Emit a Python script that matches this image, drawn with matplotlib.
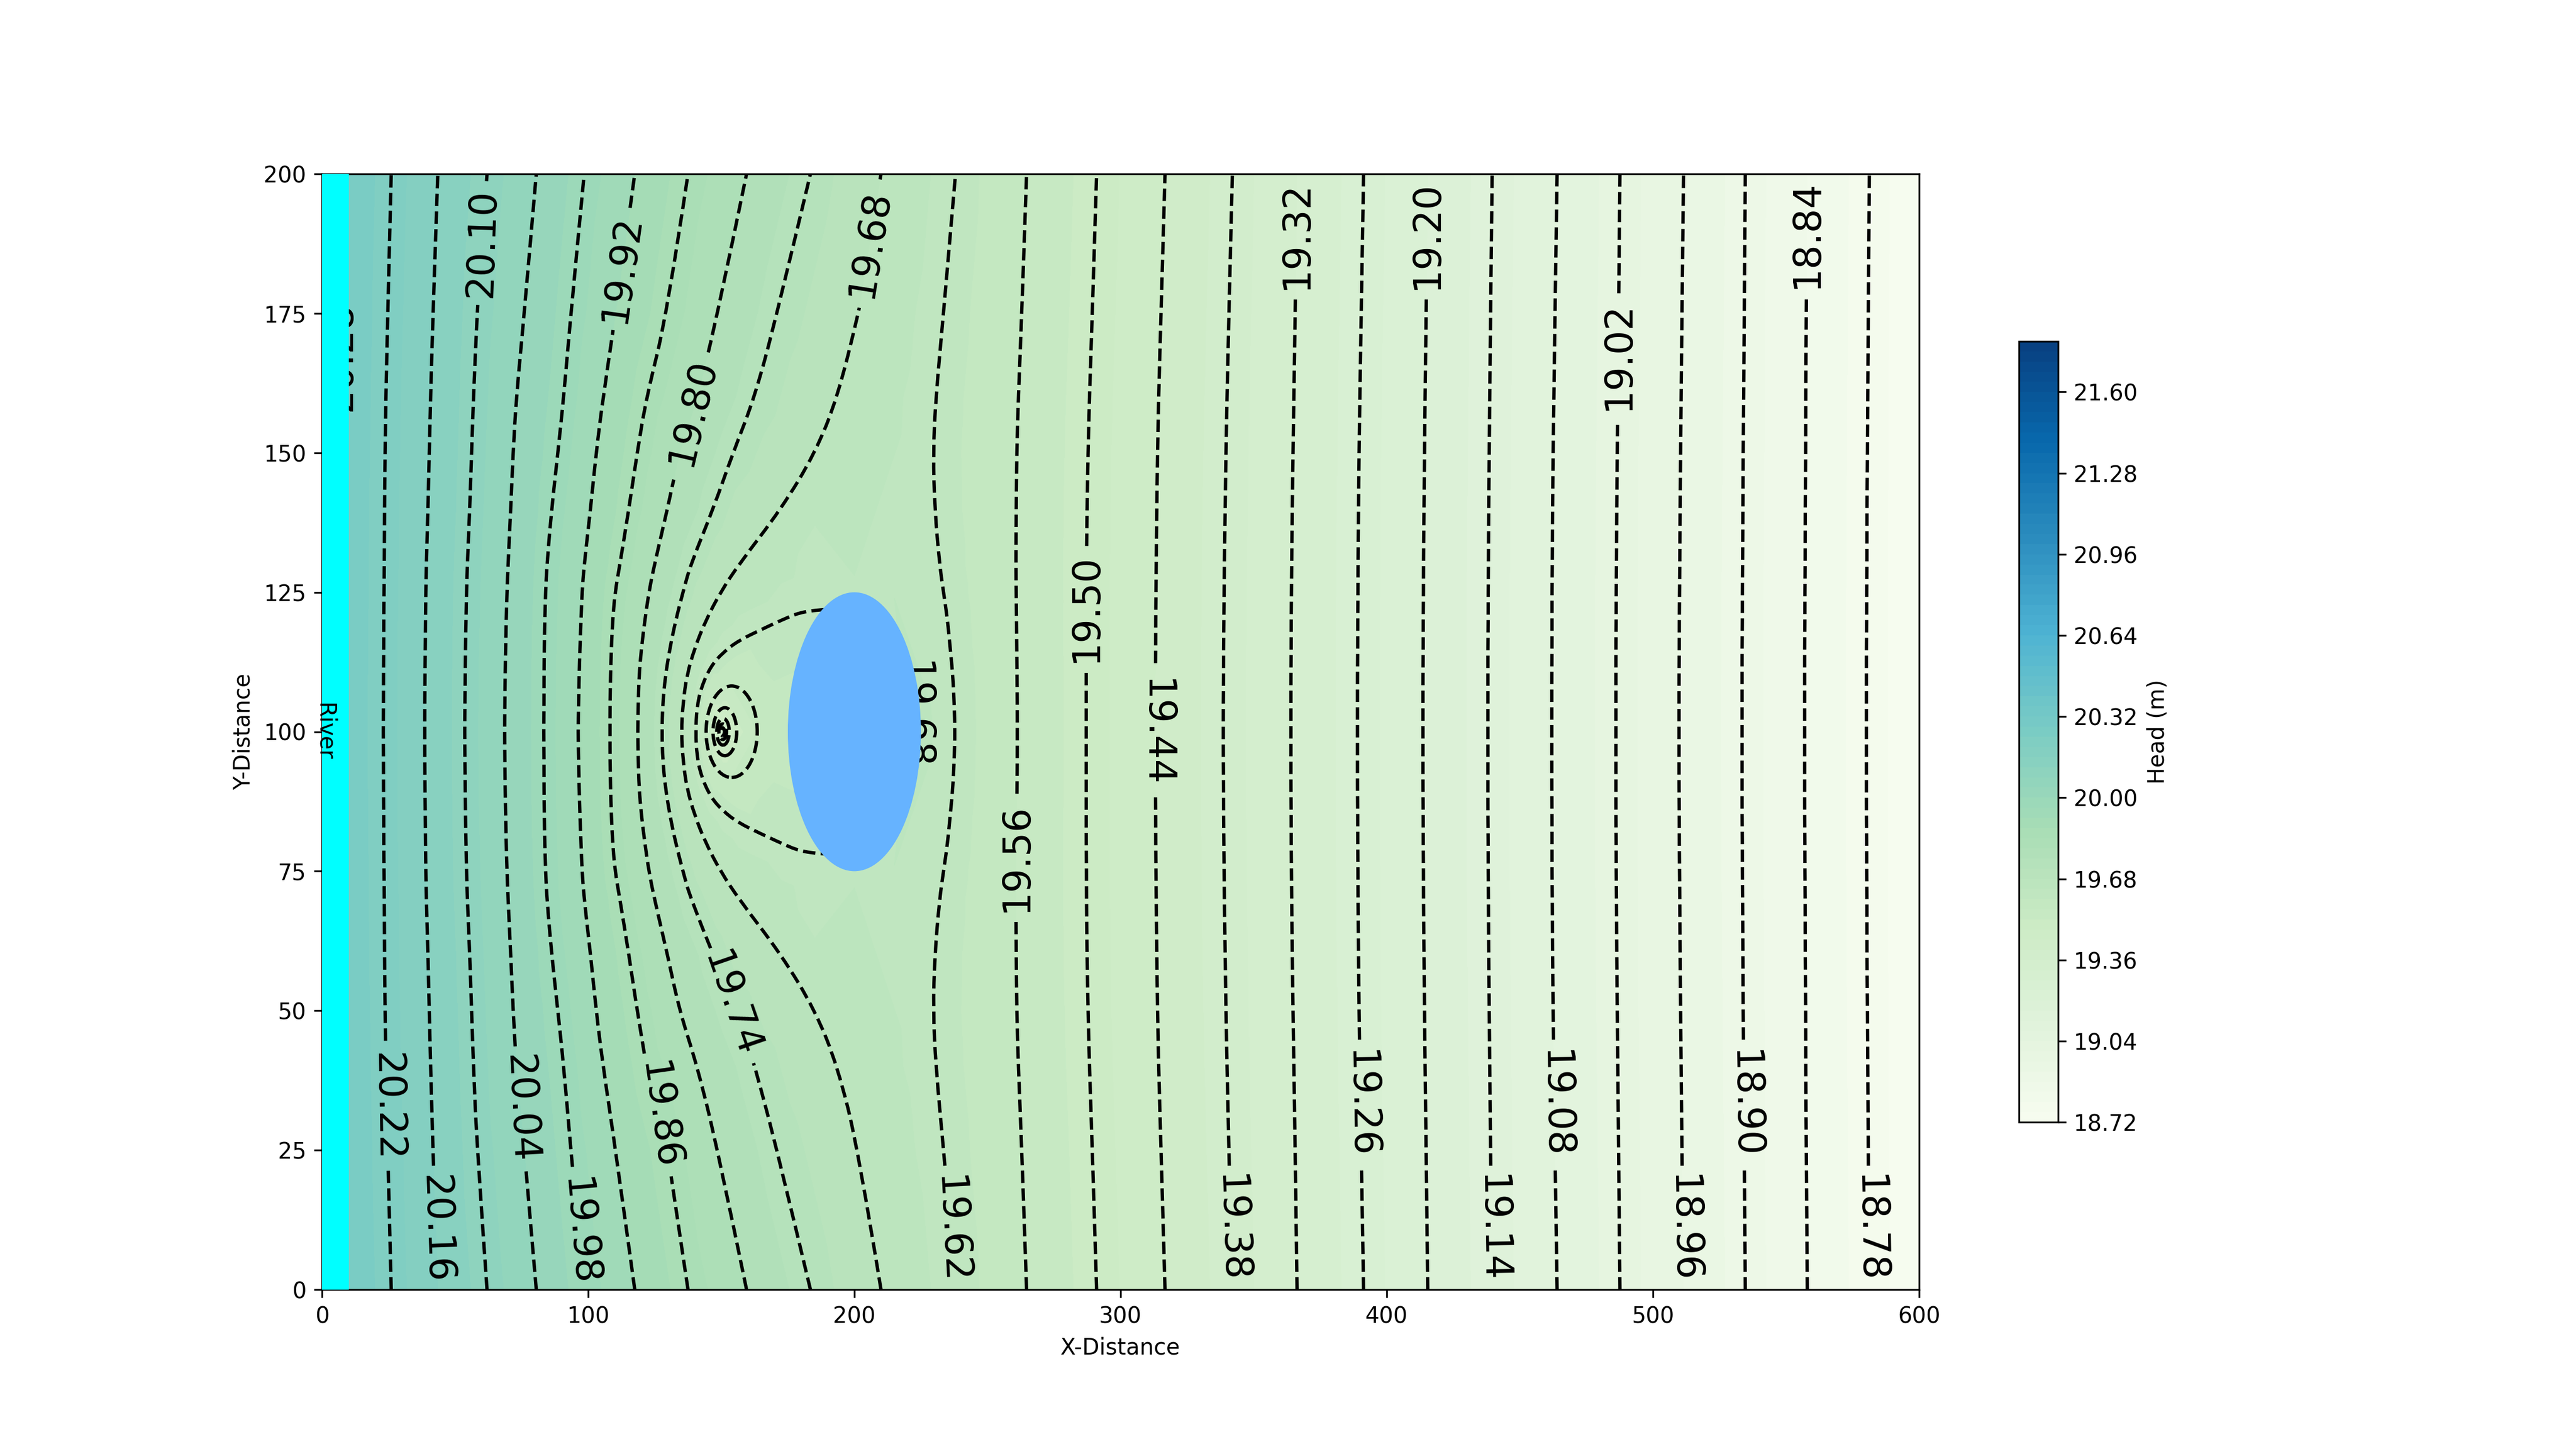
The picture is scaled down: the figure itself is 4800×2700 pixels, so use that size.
import numpy as np
import matplotlib
matplotlib.use("Agg")
import matplotlib.pyplot as plt
from matplotlib.patches import Ellipse, Rectangle, PathPatch
from matplotlib.path import Path
from matplotlib.tri import Triangulation

# offsets from the centre line y=100, the field is the same above and below it
dy_rows = [0, 5, 10, 15, 20, 25, 30, 40, 50, 60, 75, 100]

head_levels = [20.28, 20.22, 20.16, 20.10, 20.04, 19.98, 19.92, 19.86, 19.80, 19.74, 19.68, 19.62, 19.56,
               19.50, 19.44, 19.38, 19.32, 19.26, 19.20, 19.14, 19.08, 19.02, 18.96, 18.90, 18.84, 18.78]

# x of each contour at the dy_rows
x_2028 = [5.1, 5.1, 5.2, 5.3, 5.4, 5.6, 5.6, 5.8, 6.1, 6.6, 7.1, 7.6]
x_2022 = [23.0, 23.1, 23.1, 23.2, 23.2, 23.3, 23.4, 23.5, 23.7, 24.0, 24.7, 26.0]
x_2016 = [38.6, 38.6, 38.7, 38.8, 38.9, 39.0, 39.2, 39.8, 40.3, 40.8, 41.7, 43.5]
x_2010 = [53.6, 53.7, 53.8, 53.9, 54.1, 54.3, 54.6, 55.5, 56.2, 56.9, 58.3, 62.0]
x_2004 = [68.6, 68.7, 68.8, 69.0, 69.2, 69.5, 69.9, 70.9, 71.8, 73.0, 76.0, 80.5]
x_1998 = [83.3, 83.4, 83.4, 83.5, 83.7, 84.0, 84.5, 86.3, 88.6, 90.8, 93.5, 98.5]
x_1992 = [96.2, 96.4, 96.6, 96.9, 97.3, 97.7, 98.5, 100.9, 103.0, 105.6, 110.3, 117.5]
x_1986 = [108.2, 108.2, 108.4, 108.7, 109.2, 110.1, 111.9, 115.3, 118.4, 121.9, 129.7, 137.5]
x_1980 = [118.6, 118.8, 119.1, 120.0, 121.3, 122.8, 124.9, 129.8, 134.3, 141.0, 148.7, 159.5]
x_1974 = [127.7, 128.0, 129.0, 130.7, 132.9, 135.6, 138.5, 147.0, 154.4, 162.6, 171.0, 183.5]
x_1968 = [135.0, 135.6, 137.0, 140.0, 144.2, 149.7, 156.6, 172.6, 185.3, 193.7, 201.5, 210.0]
x_1962 = [237.8, 237.5, 237.0, 236.0, 235.0, 233.5, 232.0, 230.2, 229.6, 230.6, 233.5, 238.0]
x_1956 = [261.2, 261.2, 261.1, 261.0, 260.9, 260.8, 260.7, 260.8, 261.0, 261.6, 262.9, 264.7]
x_1950 = [287.1, 287.1, 287.1, 287.1, 287.1, 287.2, 287.2, 287.4, 287.8, 288.3, 289.4, 291.0]
x_1944 = [313.1, 313.1, 313.1, 313.2, 313.2, 313.3, 313.4, 313.6, 313.9, 314.3, 315.2, 316.7]
x_1938 = [338.6, 338.6, 338.7, 338.7, 338.8, 338.9, 339.0, 339.3, 339.6, 340.0, 340.7, 342.0]
x_1932 = [364.0, 364.0, 364.0, 364.1, 364.1, 364.2, 364.3, 364.5, 364.8, 365.1, 365.6, 366.3]
x_1926 = [389.0, 389.0, 389.0, 389.1, 389.1, 389.2, 389.2, 389.4, 389.6, 389.9, 390.4, 391.3]
x_1920 = [413.6, 413.6, 413.6, 413.7, 413.7, 413.8, 413.8, 414.0, 414.2, 414.4, 414.8, 415.4]
x_1914 = [438.0, 438.0, 438.0, 438.0, 438.1, 438.1, 438.2, 438.3, 438.5, 438.7, 439.0, 439.6]
x_1908 = [462.0, 462.0, 462.0, 462.1, 462.1, 462.1, 462.2, 462.3, 462.5, 462.8, 463.2, 464.0]
x_1902 = [486.1, 486.1, 486.1, 486.1, 486.2, 486.2, 486.3, 486.4, 486.6, 486.8, 487.1, 487.6]
x_1896 = [509.8, 509.8, 509.8, 509.9, 509.9, 510.0, 510.1, 510.2, 510.4, 510.6, 510.9, 511.5]
x_1890 = [533.5, 533.5, 533.5, 533.5, 533.6, 533.6, 533.7, 533.8, 533.9, 534.1, 534.3, 534.7]
x_1884 = [557.0, 557.0, 557.0, 557.0, 557.1, 557.1, 557.2, 557.2, 557.4, 557.4, 557.6, 558.0]
x_1878 = [580.2, 580.2, 580.2, 580.2, 580.3, 580.3, 580.4, 580.4, 580.6, 580.7, 580.9, 581.3]

# second branch of 19.62, from left of the well into the lake
branch_x = [140.4, 140.8, 142.5, 146.0, 150.6, 156.4, 164.5, 172.6, 179.5, 187.6, 192.0]
branch_dy = [0.0, 4.3, 8.0, 11.7, 14.2, 16.3, 18.2, 20.0, 21.4, 21.9, 22.0]

# closed rings round the well at y=100
ring_levels = [19.56, 19.50, 19.44, 19.38, 19.32]
ring_left = [144.3, 146.9, 148.3, 149.1, 149.7]
ring_right = [163.5, 155.8, 153.0, 152.0, 151.2]
ring_half_h = [8.2, 4.3, 2.4, 1.4, 0.7]

# heads at the model edges and round the lake, for the colour field
edge_left_head = 20.33
edge_right_head = 18.73
lake_x = [175, 200, 225, 200, 185, 215]
lake_dy = [0, 0, 0, 28, 24, 24]
lake_head = [19.58, 19.60, 19.65, 19.64, 19.60, 19.64]

fill_levels = np.arange(18.72, 21.81, 0.04)
colorbar_ticks = [18.72, 19.04, 19.36, 19.68, 20.00, 20.32, 20.64, 20.96, 21.28, 21.60]

# contour label layout: level -> (y of label, rotation, y where the line stops, y where it goes on)
label_layout = {
    20.28: (167.2, 90, 155.0, 178.0),
    20.22: (32.7, -89, 21.3, 44.6),
    20.16: (10.8, -88, -1.0, 22.2),
    20.10: (187.6, 88, 176.5, 198.7),
    20.04: (32.4, -87, 21.2, 43.6),
    19.98: (10.4, -85, -1.0, 22.0),
    19.92: (182.9, 82, 172.0, 193.9),
    19.86: (31.2, -82, 20.3, 42.3),
    19.80: (157.2, 77, 145.2, 168.0),
    19.74: (51.2, -71, 40.6, 61.2),
    19.68: (187.4, 81, 176.0, 199.0),
    19.62: (10.8, -87, -1.0, 22.2),
    19.56: (77.4, 90, 65.9, 88.9),
    19.50: (122.1, 90, 110.7, 133.3),
    19.44: (99.8, -90, 88.3, 112.3),
    19.38: (11.0, -88, -1.0, 22.2),
    19.32: (189.0, 90, 177.5, 201.0),
    19.26: (33.3, -89, 21.4, 44.8),
    19.20: (189.0, 90, 177.5, 201.0),
    19.14: (11.0, -89, -1.0, 22.2),
    19.08: (33.3, -89, 21.4, 44.8),
    19.02: (167.3, 90, 155.0, 178.6),
    18.96: (11.0, -89, -1.0, 22.2),
    18.90: (33.3, -89, 21.4, 44.8),
    18.84: (189.2, 90, 177.5, 201.0),
    18.78: (11.0, -89, -1.0, 22.2),
}

line_xs = [x_2028, x_2022, x_2016, x_2010, x_2004, x_1998, x_1992, x_1986, x_1980, x_1974, x_1968, x_1962,
           x_1956, x_1950, x_1944, x_1938, x_1932, x_1926, x_1920, x_1914, x_1908, x_1902, x_1896, x_1890,
           x_1884, x_1878]


def mirror(xs, dys):
    # bottom to top through the centre line
    xs = np.array(xs, dtype=float)
    dys = np.array(dys, dtype=float)
    return np.r_[xs[:0:-1], xs], np.r_[100 - dys[:0:-1], 100 + dys]


def draw_dashed(ax, xs, ys):
    # table points are the control points of a quadratic path, so the bends stay round
    pts = np.column_stack([xs, ys])
    if len(pts) < 2:
        return
    verts = [pts[0]]
    codes = [Path.MOVETO]
    for i in range(1, len(pts) - 1):
        end = pts[i + 1] if i == len(pts) - 2 else (pts[i] + pts[i + 1]) / 2
        verts += [pts[i], end]
        codes += [Path.CURVE3, Path.CURVE3]
    if len(pts) == 2:
        verts.append(pts[1])
        codes.append(Path.LINETO)
    ax.add_patch(PathPatch(Path(verts, codes), fill=False, edgecolor="k", linestyle="--", linewidth=1.5, zorder=2))


# scattered heads for the filled field
pts_x, pts_y, pts_h = [], [], []
for level, xs in zip(head_levels, line_xs):
    mx, my = mirror(xs, dy_rows)
    pts_x += list(mx)
    pts_y += list(my)
    pts_h += [level] * len(mx)

edge_x, edge_y = mirror([0.0] * len(dy_rows), dy_rows)
pts_x += list(edge_x)
pts_y += list(edge_y)
pts_h += [edge_left_head] * len(edge_x)
edge_x, edge_y = mirror([600.0] * len(dy_rows), dy_rows)
pts_x += list(edge_x)
pts_y += list(edge_y)
pts_h += [edge_right_head] * len(edge_x)

mx, my = mirror(branch_x[:-2], branch_dy[:-2])
pts_x += list(mx)
pts_y += list(my)
pts_h += [19.62] * len(mx)

for i in range(len(ring_levels)):
    cx = (ring_left[i] + ring_right[i]) / 2
    pts_x += [ring_left[i], ring_right[i], cx, cx]
    pts_y += [100, 100, 100 + ring_half_h[i], 100 - ring_half_h[i]]
    pts_h += [ring_levels[i]] * 4

for xv, dv, hv in zip(lake_x, lake_dy, lake_head):
    if dv == 0:
        pts_x.append(xv)
        pts_y.append(100)
        pts_h.append(hv)
    else:
        pts_x += [xv, xv]
        pts_y += [100 + dv, 100 - dv]
        pts_h += [hv, hv]

fig, ax = plt.subplots(figsize=(16, 9))

tri = Triangulation(pts_x, pts_y)
cf = ax.tricontourf(tri, pts_h, levels=fill_levels, cmap="GnBu")

for level, xs in zip(head_levels, line_xs):
    mx, my = mirror(xs, dy_rows)
    label_y, rot, low, high = label_layout[level]
    below = my < low
    above = my > high
    draw_dashed(ax, np.r_[mx[below], np.interp(low, my, mx)], np.r_[my[below], low])
    draw_dashed(ax, np.r_[np.interp(high, my, mx), mx[above]], np.r_[high, my[above]])
    ax.text(np.interp(label_y, my, mx), label_y, f"{level:.2f}", fontsize=17, rotation=rot,
            ha="center", va="center", zorder=2.1)

# the 19.68 label that is half under the lake
ax.text(222.5, 103.0, "19.68", fontsize=17, rotation=-90, ha="center", va="center", zorder=2.1)

mx, my = mirror(branch_x, branch_dy)
draw_dashed(ax, mx, my)

for i in range(len(ring_levels)):
    ring = Ellipse(((ring_left[i] + ring_right[i]) / 2, 100), ring_right[i] - ring_left[i], 2 * ring_half_h[i],
                   fill=False, edgecolor="k", linestyle="--", linewidth=1.5, zorder=2)
    ax.add_patch(ring)

ax.add_patch(Rectangle((0, 0), 10, 200, facecolor="cyan", edgecolor="none", zorder=5))
ax.add_patch(Ellipse((200, 100), 50, 50, facecolor="#66b3ff", edgecolor="none", zorder=5))
ax.text(0.8, 100, "River", rotation=-90, ha="center", va="center", fontsize=10, zorder=6)

ax.set_xlim(0, 600)
ax.set_ylim(0, 200)
ax.set_xlabel("X-Distance")
ax.set_ylabel("Y-Distance")

cbar = fig.colorbar(cf, ax=ax, shrink=0.7, ticks=colorbar_ticks)
cbar.set_label("Head (m)")
cbar.ax.set_yticklabels([f"{t:.2f}" for t in colorbar_ticks])

fig.savefig("out.png", dpi=300)
